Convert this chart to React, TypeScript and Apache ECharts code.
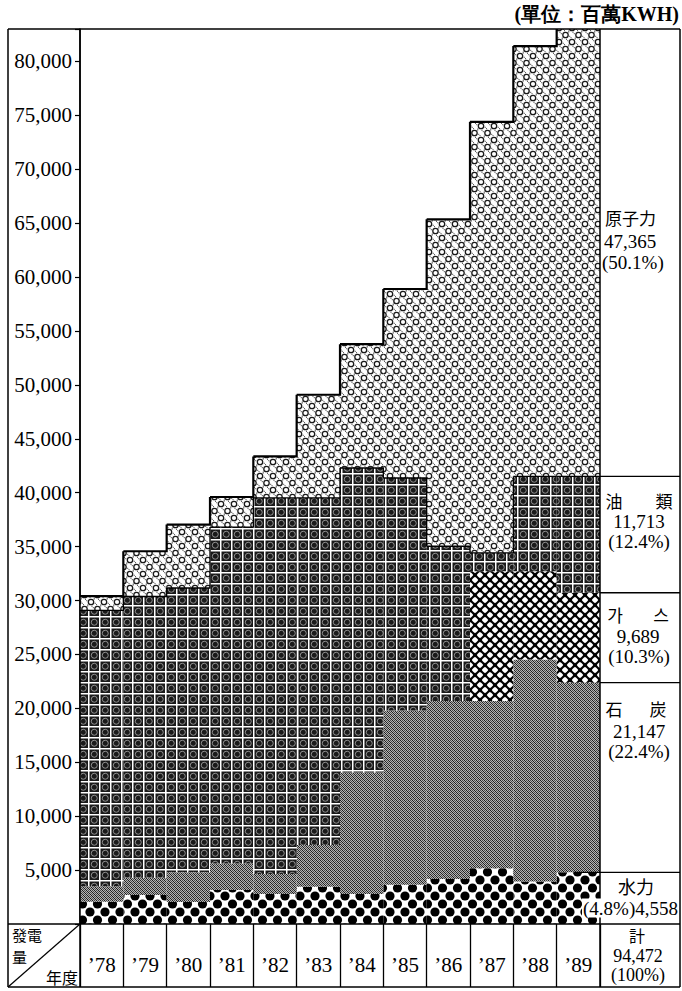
import React, { useEffect, useRef } from 'react';
import * as echarts from 'echarts';

// ---- data (百萬KWH) ----
const YEARS = ['’78', '’79', '’80', '’81', '’82', '’83', '’84', '’85', '’86', '’87', '’88', '’89'];
const HYDRO = [2070, 2690, 2040, 3150, 2780, 3460, 2780, 3640, 4170, 5160, 3950, 4790];
const COAL = [1430, 1600, 2770, 2450, 1850, 3870, 11270, 16160, 16510, 15520, 20590, 17590];
const GAS = [0, 0, 0, 0, 0, 0, 0, 0, 0, 12040, 8180, 8340];
const OIL = [25580, 26080, 26350, 31210, 34880, 32180, 28240, 21560, 14350, 1700, 8790, 10790];
const NUCLEAR = [1320, 4200, 5880, 2790, 3850, 9570, 11480, 17530, 30320, 39970, 39910, 47365];

const Y_MIN = 0;
const Y_MAX = 83000;
const Y_STEP = 5000;

const LEGEND_NAMES = ['原子力', '油類', '가스', '石炭', '水力'];
const LEGEND_VALUES = ['47,365', '11,713', '9,689', '21,147', '4,558'];
const LEGEND_SHARES = ['(50.1%)', '(12.4%)', '(10.3%)', '(22.4%)', '(4.8%)'];
const TOTAL_LABEL = ['計', '94,472', '(100%)'];
const UNIT_LABEL = '(單位：百萬KWH)';

// ---- layout ----
const W = 682;
const H = 991;
const FL = 8, FR = 680, FT = 29, FB = 987;
const PL = 80, PR = 600, PB = 924;

const SERIF = '"Liberation Serif", "Times New Roman", serif';
const CJK = '"Noto Sans CJK KR", "Noto Sans CJK TC", sans-serif';

function tile(w: number, h: number, draw: (c: CanvasRenderingContext2D) => void) {
  const c = document.createElement('canvas');
  c.width = w;
  c.height = h;
  const ctx = c.getContext('2d') as CanvasRenderingContext2D;
  draw(ctx);
  return { image: c, repeat: 'repeat', imageWidth: w, imageHeight: h } as any;
}

function makePatterns() {
  const hydro = tile(15, 16, (c) => {
    c.fillStyle = '#fff';
    c.fillRect(0, 0, 15, 16);
    c.fillStyle = '#000';
    const pts = [[0, 0], [15, 0], [0, 16], [15, 16], [7.5, 8]];
    pts.forEach(([x, y]) => {
      c.beginPath();
      c.arc(x, y, 4.6, 0, Math.PI * 2);
      c.fill();
    });
  });
  const coal = tile(4, 4, (c) => {
    for (let x = 0; x < 4; x++) {
      for (let y = 0; y < 4; y++) {
        const d = (x + y) % 2 === 0;
        const e = (x - y + 4) % 4 === 0;
        c.fillStyle = d ? (e ? '#1e1e1e' : '#4a4a4a') : '#b4b4b4';
        c.fillRect(x, y, 1, 1);
      }
    }
  });
  const gas = tile(10, 10, (c) => {
    c.fillStyle = '#fff';
    c.fillRect(0, 0, 10, 10);
    c.strokeStyle = '#000';
    c.lineWidth = 2.1;
    c.beginPath();
    c.moveTo(-2, -2); c.lineTo(12, 12);
    c.moveTo(12, -2); c.lineTo(-2, 12);
    c.moveTo(3, -2); c.lineTo(-2, 3);
    c.moveTo(8, 12); c.lineTo(12, 8);
    c.stroke();
    c.fillStyle = '#000';
    [[0, 0], [10, 0], [0, 10], [10, 10], [5, 5]].forEach(([x, y]) => {
      c.beginPath();
      c.moveTo(x, y - 2.4); c.lineTo(x + 2.4, y); c.lineTo(x, y + 2.4); c.lineTo(x - 2.4, y);
      c.closePath();
      c.fill();
    });
  });
  const oil = tile(11, 11, (c) => {
    c.fillStyle = '#fff';
    c.fillRect(0, 0, 11, 11);
    c.fillStyle = '#1a1a1a';
    c.fillRect(1.5, 1.5, 9.5, 9.5);
    c.strokeStyle = '#a8a8a8';
    c.lineWidth = 0.8;
    c.beginPath();
    c.arc(6.25, 6.25, 3, 0, Math.PI * 2);
    c.stroke();
  });
  const nuclear = tile(13, 14, (c) => {
    c.fillStyle = '#fff';
    c.fillRect(0, 0, 13, 14);
    c.strokeStyle = '#1a1a1a';
    c.fillStyle = '#333';
    c.lineWidth = 1.3;
    [[0, 0], [13, 0], [0, 14], [13, 14], [6.5, 7]].forEach(([x, y]) => {
      c.beginPath();
      c.arc(x, y, 2.7, 0, Math.PI * 2);
      c.stroke();
      for (let k = 0; k < 6; k++) {
        const a = (k / 6) * Math.PI * 2 + 0.3;
        c.fillRect(x + Math.cos(a) * 4.4 - 0.5, y + Math.sin(a) * 4.4 - 0.5, 1, 1);
      }
    });
  });
  return { hydro, coal, gas, oil, nuclear };
}

function cum(arrs: number[][]) {
  return YEARS.map((_, i) => arrs.reduce((s, a) => s + a[i], 0));
}

function yOf(v: number) {
  return FT + (1 - (v - Y_MIN) / (Y_MAX - Y_MIN)) * (PB - FT);
}

function outlineSeries(tops: number[], width: number, z: number) {
  const data = tops.map((t, i) => [i, t, i < tops.length - 1 ? tops[i + 1] : NaN]);
  return {
    type: 'custom',
    silent: true,
    clip: true,
    z,
    data,
    renderItem: (params: any, api: any) => {
      const i = api.value(0);
      const t = api.value(1);
      const nx = api.value(2);
      const p = api.coord([i, t]);
      const bw = api.size([1, 0])[0];
      const pts: number[][] = [[p[0] - bw / 2, p[1]], [p[0] + bw / 2, p[1]]];
      if (!isNaN(nx)) {
        pts.push([p[0] + bw / 2, api.coord([i, nx])[1]]);
      }
      return {
        type: 'polyline',
        shape: { points: pts },
        style: { stroke: '#000', lineWidth: width, fill: null },
      };
    },
  };
}

function line(x1: number, y1: number, x2: number, y2: number, w = 1.5) {
  return { type: 'line', z: 100, silent: true, shape: { x1, y1, x2, y2 }, style: { stroke: '#000', lineWidth: w } };
}

function text(x: number, y: number, s: string, opts: any = {}) {
  return {
    type: 'text',
    z: 101,
    silent: true,
    x,
    y,
    style: {
      text: s,
      fill: '#000',
      fontFamily: opts.cjk ? CJK : SERIF,
      fontSize: opts.size || 19,
      fontWeight: opts.bold ? 'bold' : 'normal',
      align: opts.align || 'center',
      verticalAlign: 'middle',
      backgroundColor: opts.bg,
      padding: opts.bg ? [0, 1] : 0,
    },
  };
}

export default function App() {
  const ref = useRef<HTMLDivElement>(null);

  useEffect(() => {
    if (!ref.current) return;
    const chart = echarts.init(ref.current, undefined, { renderer: 'svg', width: W, height: H });
    const pat = makePatterns();

    const hydroTop = cum([HYDRO]);
    const coalTop = cum([HYDRO, COAL]);
    const gasTop = cum([HYDRO, COAL, GAS]);
    const oilTop = cum([HYDRO, COAL, GAS, OIL]);
    const total = cum([HYDRO, COAL, GAS, OIL, NUCLEAR]);
    const last = YEARS.length - 1;

    const bar = (name: string, data: number[], color: any) => ({
      name,
      type: 'bar',
      stack: 'total',
      data,
      barCategoryGap: '0%',
      silent: true,
      clip: true,
      itemStyle: { color },
      emphasis: { disabled: true },
    });

    const graphics: any[] = [
      // frame
      line(FL, FT, FR, FT),
      line(FL, FB, FR, FB),
      line(FL, FT, FL, FB),
      line(FR, FT, FR, FB),
      line(PL, FT, PL, FB),
      line(PR, FT, PR, FB),
      line(FL, PB, FR, PB),
      // right column dividers at the '89 boundaries
      line(PR, yOf(oilTop[last]), FR, yOf(oilTop[last]), 1.3),
      line(PR, yOf(gasTop[last]), FR, yOf(gasTop[last]), 1.3),
      line(PR, yOf(coalTop[last]), FR, yOf(coalTop[last]), 1.3),
      line(PR - 26, yOf(hydroTop[last]), FR, yOf(hydroTop[last]), 1.3),
      // table header diagonal
      line(FL, FB, PL, PB, 1.2),
      // unit
      text(679, 14, UNIT_LABEL, { align: 'right', size: 20, bold: true }),
      // nuclear
      text(605, 217, LEGEND_NAMES[0], { align: 'left', cjk: true, size: 17 }),
      text(604, 241, LEGEND_VALUES[0], { align: 'left' }),
      text(602, 262, LEGEND_SHARES[0], { align: 'left' }),
      // oil
      text(614, 500, LEGEND_NAMES[1].charAt(0), { cjk: true, size: 17 }),
      text(664, 500, LEGEND_NAMES[1].charAt(1), { cjk: true, size: 17 }),
      text(639, 521, LEGEND_VALUES[1]),
      text(639, 541, LEGEND_SHARES[1]),
      // gas
      text(615, 614, LEGEND_NAMES[2].charAt(0), { cjk: true, size: 17 }),
      text(661, 614, LEGEND_NAMES[2].charAt(1), { cjk: true, size: 17 }),
      text(638, 636, LEGEND_VALUES[2]),
      text(639, 656, LEGEND_SHARES[2]),
      // coal
      text(614, 708, LEGEND_NAMES[3].charAt(0), { cjk: true, size: 17 }),
      text(658, 708, LEGEND_NAMES[3].charAt(1), { cjk: true, size: 17 }),
      text(639, 731, LEGEND_VALUES[3]),
      text(639, 751, LEGEND_SHARES[3]),
      // hydro
      text(636, 886, LEGEND_NAMES[4], { cjk: true, size: 18 }),
      text(679, 908, LEGEND_SHARES[4] + LEGEND_VALUES[4], { align: 'right', bg: '#fff' }),
      // total
      text(637, 935, TOTAL_LABEL[0], { cjk: true, size: 16 }),
      text(638, 956, TOTAL_LABEL[1], { size: 18 }),
      text(638, 975, TOTAL_LABEL[2], { size: 18 }),
      // table header
      text(12, 934, '發電', { align: 'left', cjk: true, size: 15 }),
      text(12, 956, '量', { align: 'left', cjk: true, size: 15 }),
      text(78, 977, '年度', { align: 'right', cjk: true, size: 16 }),
    ];

    chart.setOption({
      animation: false,
      backgroundColor: '#fff',
      grid: [
        { left: PL, top: FT, width: PR - PL, height: PB - FT, containLabel: false },
        { left: PL, top: PB, width: PR - PL, height: FB - PB, containLabel: false },
      ],
      xAxis: [
        {
          type: 'category',
          gridIndex: 0,
          data: YEARS,
          axisLine: { show: false },
          axisTick: { show: false },
          axisLabel: { show: false },
          splitLine: { show: false },
        },
        {
          type: 'category',
          gridIndex: 1,
          data: YEARS,
          position: 'bottom',
          axisLine: { show: false },
          axisTick: { show: false },
          axisLabel: {
            inside: true,
            margin: 22,
            color: '#000',
            fontFamily: SERIF,
            fontSize: 21,
            verticalAlign: 'middle',
          },
          splitLine: { show: true, lineStyle: { color: '#000', width: 1.3 } },
        },
      ],
      yAxis: [
        {
          type: 'value',
          gridIndex: 0,
          min: Y_MIN,
          max: Y_MAX,
          interval: Y_STEP,
          axisLine: { show: true, lineStyle: { color: '#000', width: 1.5 } },
          axisTick: { show: true, length: 5, lineStyle: { color: '#000', width: 1.2 } },
          splitLine: { show: false },
          axisLabel: {
            color: '#000',
            fontFamily: SERIF,
            fontSize: 21,
            margin: 8,
            formatter: (v: number) => (v === 0 || v % Y_STEP !== 0 ? '' : v.toLocaleString('en-US')),
          },
        },
        {
          type: 'value',
          gridIndex: 1,
          min: 0,
          max: 1,
          show: false,
        },
      ],
      series: [
        bar('水力', HYDRO, pat.hydro),
        bar('石炭', COAL, pat.coal),
        bar('가스', GAS, pat.gas),
        bar('油類', OIL, pat.oil),
        bar('原子力', NUCLEAR, pat.nuclear),
        outlineSeries(oilTop, 1.3, 5),
        outlineSeries(total, 2.2, 6),
      ],
      graphic: graphics,
    });

    return () => {
      chart.dispose();
    };
  }, []);

  return (
    <div
      ref={ref}
      style={{ position: 'fixed', left: 0, top: 0, width: W, height: H, background: '#fff' }}
    />
  );
}
